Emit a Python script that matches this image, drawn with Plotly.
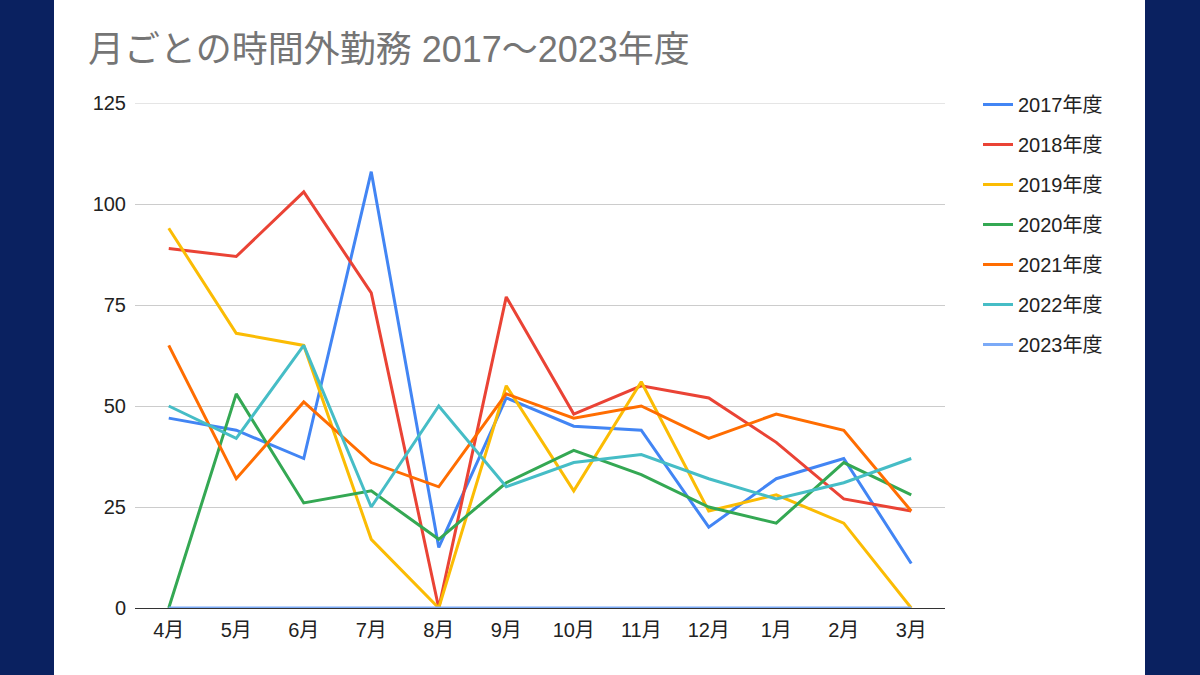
import plotly.graph_objects as go

months = ["4月", "5月", "6月", "7月", "8月", "9月", "10月", "11月", "12月", "1月", "2月", "3月"]
series_names = ["2017年度", "2018年度", "2019年度", "2020年度", "2021年度", "2022年度", "2023年度"]

y2017 = [47, 44, 37, 108, 15, 52, 45, 44, 20, 32, 37, 11]
y2018 = [89, 87, 103, 78, 0, 77, 48, 55, 52, 41, 27, 24]
y2019 = [94, 68, 65, 17, 0, 55, 29, 56, 24, 28, 21, 0]
y2020 = [0, 53, 26, 29, 17, 31, 39, 33, 25, 21, 36, 28]
y2021 = [65, 32, 51, 36, 30, 53, 47, 50, 42, 48, 44, 24]
y2022 = [50, 42, 65, 25, 50, 30, 36, 38, 32, 27, 31, 37]
y2023 = [0, 0, 0, 0, 0, 0, 0, 0, 0, 0, 0, 0]

y_ticks = [0, 25, 50, 75, 100, 125]

colors = ["#4285f4", "#ea4335", "#fbbc04", "#34a853", "#ff6d01", "#46bdc6", "#7baaf7"]
all_values = [y2017, y2018, y2019, y2020, y2021, y2022, y2023]

FONT = "Arial, 'Liberation Sans', 'Noto Sans CJK JP', sans-serif"
NAVY = "#0a2160"

fig = go.Figure()
for name, vals, col in zip(series_names, all_values, colors):
    fig.add_trace(go.Scatter(
        x=months, y=vals, name=name, mode="lines",
        line=dict(color=col, width=3),
        legendgroup=name,
        cliponaxis=False,
    ))

# plot area: x 135..945, y 103..608 (px)
fig.update_layout(
    width=1200,
    height=675,
    margin=dict(l=135, r=255, t=103, b=67),
    paper_bgcolor=NAVY,
    plot_bgcolor="rgba(0,0,0,0)",
    font=dict(family=FONT, color="#222222", size=20),
    title=dict(
        text="月ごとの時間外勤務 2017～2023年度",
        x=88 / 1200, xanchor="left", xref="container",
        y=1 - 49 / 675, yanchor="middle", yref="container",
        font=dict(family=FONT, size=36, color="#757575"),
    ),
    legend=dict(
        x=(978 - 135) / 810, xanchor="left",
        y=(608 - 85) / 505, yanchor="top",
        font=dict(size=20, color="#222222"),
        tracegroupgap=11,
        bgcolor="rgba(0,0,0,0)",
    ),
    shapes=[
        dict(
            type="rect", xref="paper", yref="paper",
            x0=(54 - 135) / 810, x1=(1145 - 135) / 810,
            y0=(608 - 680) / 505, y1=(608 + 5) / 505,
            fillcolor="white", line=dict(width=0), layer="below",
        ),
        # top gridline (plotly skips it at the range edge)
        dict(
            type="line", xref="paper", yref="y",
            x0=0, x1=1, y0=y_ticks[-1], y1=y_ticks[-1],
            line=dict(color="#cccccc", width=1), layer="below",
        ),
    ],
)

fig.update_xaxes(
    range=[-0.5, 11.5],
    showgrid=False,
    showline=True, linecolor="#333333", linewidth=1,
    ticks="", layer="below traces",
    tickfont=dict(size=20, color="#222222"),
    ticklabelstandoff=4,
)
fig.update_yaxes(
    range=[0, 125],
    tickvals=y_ticks,
    showgrid=True, gridcolor="#cccccc", gridwidth=1,
    zeroline=False, showline=False, ticks="",
    tickfont=dict(size=20, color="#222222"),
    ticklabelstandoff=8,
    layer="below traces",
)

fig.write_html(
    "out.html",
    config={"displayModeBar": False},
    post_script="document.body.style.margin='0';document.body.style.background='%s';" % NAVY,
)
